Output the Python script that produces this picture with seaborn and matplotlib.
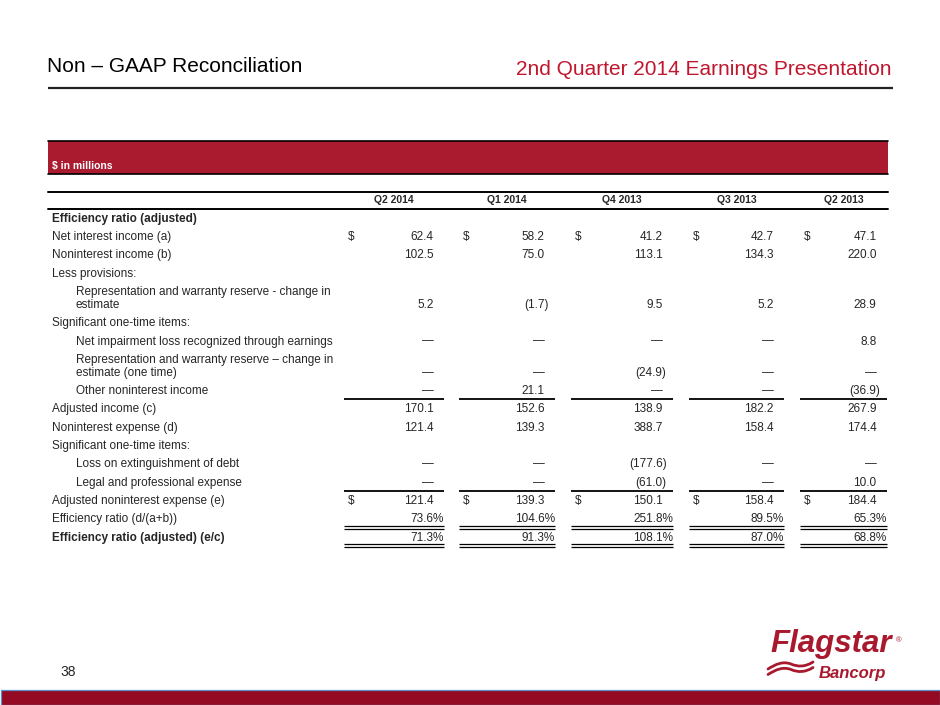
import numpy as np
import matplotlib
matplotlib.use("Agg")
import matplotlib.pyplot as plt
import seaborn as sns
from matplotlib.patches import Rectangle, PathPatch
from matplotlib.path import Path

sns.set_style("white")
plt.rcParams['font.family'] = ['Liberation Sans', 'DejaVu Sans']

# ---- data ($ in millions) ----
quarters = ["Q2 2014", "Q1 2014", "Q4 2013", "Q3 2013", "Q2 2013"]

net_interest_income = [62.4, 58.2, 41.2, 42.7, 47.1]
noninterest_income = [102.5, 75.0, 113.1, 134.3, 220.0]
rw_reserve_change = [5.2, -1.7, 9.5, 5.2, 28.9]
net_impairment_loss = [None, None, None, None, 8.8]
rw_reserve_one_time = [None, None, -24.9, None, None]
other_noninterest_income = [None, 21.1, None, None, -36.9]
adjusted_income = [170.1, 152.6, 138.9, 182.2, 267.9]
noninterest_expense = [121.4, 139.3, 388.7, 158.4, 174.4]
loss_on_debt = [None, None, -177.6, None, None]
legal_expense = [None, None, -61.0, None, 10.0]
adjusted_nonint_expense = [121.4, 139.3, 150.1, 158.4, 184.4]
efficiency_ratio = [73.6, 104.6, 251.8, 89.5, 65.3]
efficiency_ratio_adj = [71.3, 91.3, 108.1, 87.0, 68.8]

# label, indent, bold, values, kind, rule below
table = [
    ("Efficiency ratio (adjusted)", 0, True, None, None, None),
    ("Net interest income (a)", 0, False, net_interest_income, "dollar", None),
    ("Noninterest income (b)", 0, False, noninterest_income, "num", None),
    ("Less provisions:", 0, False, None, None, None),
    ("Representation and warranty reserve - change in\nestimate", 1, False, rw_reserve_change, "num", None),
    ("Significant one-time items:", 0, False, None, None, None),
    ("Net impairment loss recognized through earnings", 1, False, net_impairment_loss, "num", None),
    ("Representation and warranty reserve \u2013 change in\nestimate (one time)", 1, False, rw_reserve_one_time, "num", None),
    ("Other noninterest income", 1, False, other_noninterest_income, "num", "single"),
    ("Adjusted income (c)", 0, False, adjusted_income, "num", None),
    ("Noninterest expense (d)", 0, False, noninterest_expense, "num", None),
    ("Significant one-time items:", 0, False, None, None, None),
    ("Loss on extinguishment of debt", 1, False, loss_on_debt, "num", None),
    ("Legal and professional expense", 1, False, legal_expense, "num", "single"),
    ("Adjusted noninterest expense (e)", 0, False, adjusted_nonint_expense, "dollar", None),
    ("Efficiency ratio (d/(a+b))", 0, False, efficiency_ratio, "pct", "double"),
    ("Efficiency ratio (adjusted) (e/c)", 0, True, efficiency_ratio_adj, "pct", "double"),
]

red = "#AB1B2F"
title_red = "#C0172F"
logo_red = "#A8192E"

fig = plt.figure(figsize=(9.4, 7.05), dpi=100)
ax = fig.add_axes([0, 0, 1, 1])
ax.set_xlim(0, 940)
ax.set_ylim(705, 0)
ax.axis("off")

# header of slide
ax.text(47, 72, "Non \u2013 GAAP Reconciliation", fontsize=15, color="black", va="baseline")
ax.text(891, 75, "2nd Quarter 2014 Earnings Presentation", fontsize=15, color=title_red,
        ha="right", va="baseline")
ax.plot([48, 893], [87.7, 87.7], color="#222222", lw=1.6, solid_capstyle="butt")

# red band
ax.add_patch(Rectangle((48, 140.7), 840, 33.3, facecolor=red, edgecolor="none"))
ax.plot([48, 888], [141, 141], color="black", lw=1.2)
ax.plot([48, 888], [174, 174], color="black", lw=1.2)
ax.text(52, 169, "$ in millions", color="white", fontsize=7.5, fontweight="bold", va="baseline")

# column header
col_left = np.array([344, 459, 571, 689, 800])
col_right = np.array([444, 555, 673, 784, 887])
ax.plot([48, 888], [191.7, 191.7], color="black", lw=1.4)
ax.plot([48, 888], [208.7, 208.7], color="black", lw=1.4)
for q, l, r in zip(quarters, col_left, col_right):
    ax.text((l + r) / 2, 203, q, fontsize=7.5, fontweight="bold", ha="center", va="baseline")

fs = 8.5
step = 18.3
wrap = 13.0
y = 217.7
for label, indent, bold, vals, kind, rule in table:
    lines = label.split("\n")
    x0 = 52 if indent == 0 else 76
    for k, line in enumerate(lines):
        ax.text(x0, y + k * wrap + 4, line, fontsize=fs, fontweight="bold" if bold else "normal",
                va="baseline")
    yv = y + (len(lines) - 1) * wrap
    if vals is not None:
        for v, l, r in zip(vals, col_left, col_right):
            if kind == "dollar":
                ax.text(l + 4, yv + 4, "$", fontsize=fs, va="baseline")
            if v is None:
                ax.text(r - 10.5, yv + 4, "\u2014", fontsize=fs, ha="right", va="baseline", color="#222222")
            elif kind == "pct":
                ax.text(r, yv + 4, f"{v:.1f}%", fontsize=fs, ha="right", va="baseline")
            elif v < 0:
                ax.text(r - 6.5, yv + 4, f"({-v:.1f})", fontsize=fs, ha="right", va="baseline")
            else:
                ax.text(r - 10.5, yv + 4, f"{v:.1f}", fontsize=fs, ha="right", va="baseline")
    ry = yv + step / 2
    if rule == "single":
        for l, r in zip(col_left, col_right):
            ax.plot([l, r], [ry, ry], color="black", lw=1.3, solid_capstyle="butt")
    elif rule == "double":
        for l, r in zip(col_left, col_right):
            ax.plot([l, r], [ry - 1.5, ry - 1.5], color="black", lw=0.9, solid_capstyle="butt")
            ax.plot([l, r], [ry + 1.5, ry + 1.5], color="black", lw=0.9, solid_capstyle="butt")
    y = yv + step

# page number
ax.text(60, 676, "38", fontsize=10, va="baseline")

# logo
ax.text(770, 652, "Flagstar", fontsize=22.5, fontweight="bold", fontstyle="italic",
        color=logo_red, va="baseline")
ax.text(896, 642, "\u00ae", fontsize=5.5, color=logo_red, va="baseline")
ax.text(819, 678, "Bancorp", fontsize=12, fontweight="bold", fontstyle="italic",
        color=logo_red, va="baseline")
for dy in (0, 5.5):
    verts = [(768, 669 + dy), (776, 664 + dy), (783, 661 + dy), (791, 664 + dy),
             (798, 667 + dy), (805, 667 + dy), (813, 662 + dy)]
    codes = [Path.MOVETO] + [Path.CURVE4] * 6
    ax.add_patch(PathPatch(Path(verts, codes), facecolor="none", edgecolor=logo_red,
                           lw=2.0, capstyle="round"))

# bottom bar
ax.add_patch(Rectangle((0.5, 690), 939, 14.5, facecolor="#930A22", edgecolor="#5B8FCB", lw=0.9))

fig.savefig("out.png", dpi=100)
